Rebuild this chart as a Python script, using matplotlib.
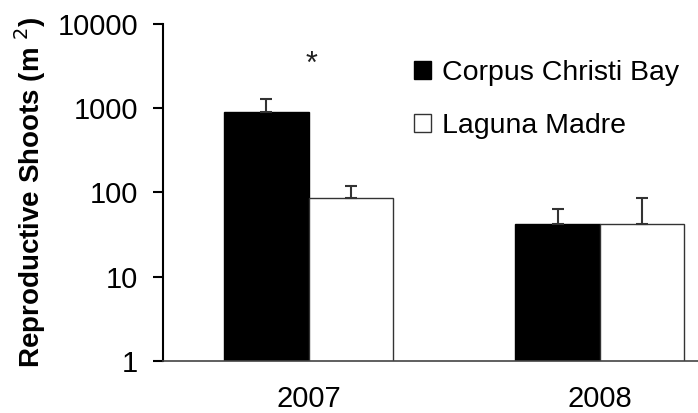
import matplotlib.pyplot as plt
import numpy as np

plt.rcParams['font.family'] = ['Liberation Sans', 'DejaVu Sans']

years = ['2007', '2008']
ccb_mean = [900, 42]
ccb_err = [380, 21]
lm_mean = [87, 42]
lm_err = [32, 45]

x = np.arange(len(years))
w = 0.289

fig = plt.figure(figsize=(6.98, 4.13), dpi=100)
ax = fig.add_axes([0.2335, 0.126, 0.7665, 0.816])

ax.bar(x - w / 2, ccb_mean, w, color='black', edgecolor='black', linewidth=1,
       label='Corpus Christi Bay')
ax.bar(x + w / 2, lm_mean, w, color='white', edgecolor='#333333', linewidth=1,
       label='Laguna Madre')
ax.errorbar(x - w / 2, ccb_mean, yerr=[[0, 0], ccb_err], fmt='none',
            ecolor='#333333', elinewidth=1.5, capsize=4.5, capthick=1.5)
ax.errorbar(x + w / 2, lm_mean, yerr=[[0, 0], lm_err], fmt='none',
            ecolor='#333333', elinewidth=1.5, capsize=4.5, capthick=1.5)

# significance mark
ax.text(0.01, 3300, '*', ha='center', va='center', fontsize=22, color='#222222')

ax.set_yscale('log')
ax.set_ylim(1, 10000)
ax.set_xlim(-0.5, 1.338)
ax.set_yticks([1, 10, 100, 1000, 10000])
ax.set_yticklabels(['1', '10', '100', '1000', '10000'])
ax.minorticks_off()
ax.set_xticks(x)
ax.set_xticklabels(years)

ax.tick_params(axis='y', length=7, width=1.5, pad=11, labelsize=21)
ax.tick_params(axis='x', length=0, pad=17, labelsize=21)
ax.spines['top'].set_visible(False)
ax.spines['right'].set_visible(False)
ax.spines['left'].set_linewidth(1.5)
ax.spines['bottom'].set_linewidth(1.2)
ax.spines['bottom'].set_color('#444444')

ax.set_ylabel('Reproductive Shoots (m $^{2}$)', fontsize=20, fontweight='bold',
              labelpad=7)

ax.legend(loc='upper left', bbox_to_anchor=(0.556, 0.917), bbox_transform=fig.transFigure,
          frameon=False, fontsize=20.5, handlelength=0.6, handleheight=0.6,
          handletextpad=0.4, labelspacing=0.95)

fig.savefig('out.png', dpi=100)
